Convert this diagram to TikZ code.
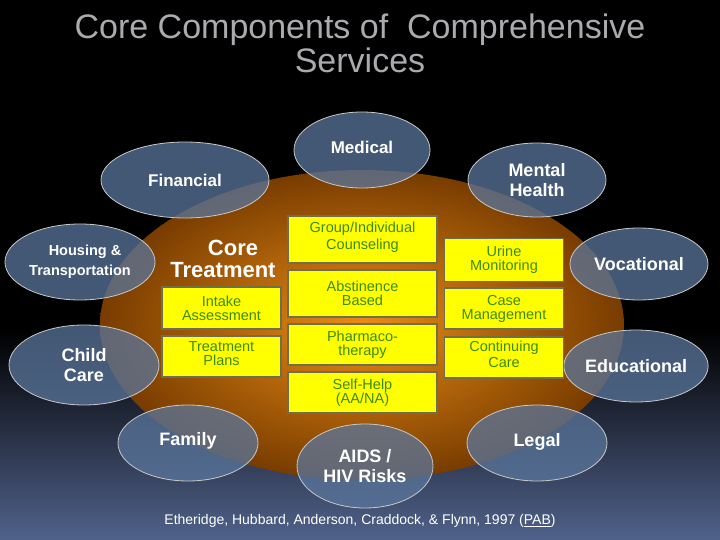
\documentclass[tikz,border=0pt]{standalone}
\usepackage{fontspec}
\setmainfont{Liberation Sans}
\usetikzlibrary{shapes.geometric}
\definecolor{ellfill}{RGB}{90,118,156}
\definecolor{ellline}{RGB}{200,200,200}
\definecolor{boxfill}{RGB}{255,255,0}
\definecolor{boxline}{RGB}{110,110,80}
\definecolor{boxtext}{RGB}{60,140,20}
\definecolor{titlegray}{RGB}{170,170,175}
\begin{document}
\begin{tikzpicture}[x=1pt,y=-1pt,
  oval/.style={ellipse,draw=ellline,line width=0.8pt,fill=ellfill,fill opacity=0.75,text opacity=1,
    text=white,font=\bfseries\fontsize{18}{20}\selectfont,align=center,inner sep=0pt},
  ybox/.style={rectangle,draw=boxline,line width=1.2pt,fill=boxfill,text=boxtext,
    font=\fontsize{14.5}{14}\selectfont,align=center,inner sep=0pt}]
\useasboundingbox (0,0) rectangle (720,540);
\fill[black] (0,0) rectangle (720,540);
\shade[top color=black,bottom color={rgb,255:red,80;green,98;blue,138}] (0,330) rectangle (720,540);
% title
\node[text=titlegray,font=\fontsize{34}{34}\selectfont,align=center] (title) at (360,43) {Core Components of\ \ Comprehensive\\Services};
% big ellipse
\shade[inner color={rgb,255:red,235;green,140;blue,20},outer color={rgb,255:red,120;green,60;blue,0}] (362,325) ellipse [x radius=262,y radius=155];
% outer ellipses
\node[oval,minimum width=136,minimum height=76,font=\bfseries\fontsize{17}{19}\selectfont] (med) at (362,150) {\raisebox{6pt}{Medical}};
\node[oval,minimum width=168,minimum height=76,font=\bfseries\fontsize{17}{19}\selectfont] (fin) at (185,180) {Financial};
\node[oval,minimum width=138,minimum height=74] (mh) at (537,180) {Mental\\Health};
\node[oval,minimum width=138,minimum height=72] (voc) at (639,264) {Vocational};
\node[oval,minimum width=138,minimum height=72] (edu) at (636,366) {Educational};
\node[oval,minimum width=150,minimum height=76,font=\bfseries\fontsize{14.5}{20}\selectfont] (hou) at (80,262) {\hspace*{10pt}Housing \&\\Transportation};
\node[oval,minimum width=150,minimum height=80] (cc) at (84,365) {Child\\Care};
\node[oval,minimum width=140,minimum height=76] (fam) at (188,443) {\raisebox{8pt}{Family}};
\node[oval,minimum width=136,minimum height=84] (aids) at (365,466) {AIDS /\\HIV Risks};
\node[oval,minimum width=140,minimum height=76] (leg) at (537,443) {\raisebox{6pt}{Legal}};
% core treatment
\node[text=white,font=\bfseries\fontsize{22}{22}\selectfont,align=center] (core) at (223,259) {\hspace*{20pt}Core\\Treatment};
% boxes
\node[ybox,minimum width=119,minimum height=42] (intake) at (221.5,308) {Intake\\Assessment};
\node[ybox,minimum width=119,minimum height=41] (plans) at (221.5,356.5) {\raisebox{6pt}{\shortstack{Treatment\\Plans}}};
\node[ybox,minimum width=149,minimum height=47] (grp) at (362.5,239.5) {\raisebox{8pt}{\shortstack{Group/Individual\\Counseling}}};
\node[ybox,minimum width=149,minimum height=47] (abs) at (362.5,293.5) {Abstinence\\Based};
\node[ybox,minimum width=149,minimum height=41] (pha) at (362.5,344.5) {Pharmaco-\\therapy};
\node[ybox,minimum width=149,minimum height=41] (self) at (362.5,392.5) {Self-Help\\(AA/NA)};
\node[ybox,minimum width=119,minimum height=43] (urine) at (504,260) {Urine\\Monitoring};
\node[ybox,minimum width=119,minimum height=41] (case) at (504,308.5) {Case\\Management};
\node[ybox,minimum width=119,minimum height=41] (cont) at (504,357.5) {\raisebox{6pt}{\shortstack{Continuing\\Care}}};
% citation
\node[text=white,font=\fontsize{14}{16}\selectfont] (cite) at (360,521) {Etheridge, Hubbard, Anderson, Craddock, \& Flynn, 1997 (\underline{PAB})};
\end{tikzpicture}
\end{document}
